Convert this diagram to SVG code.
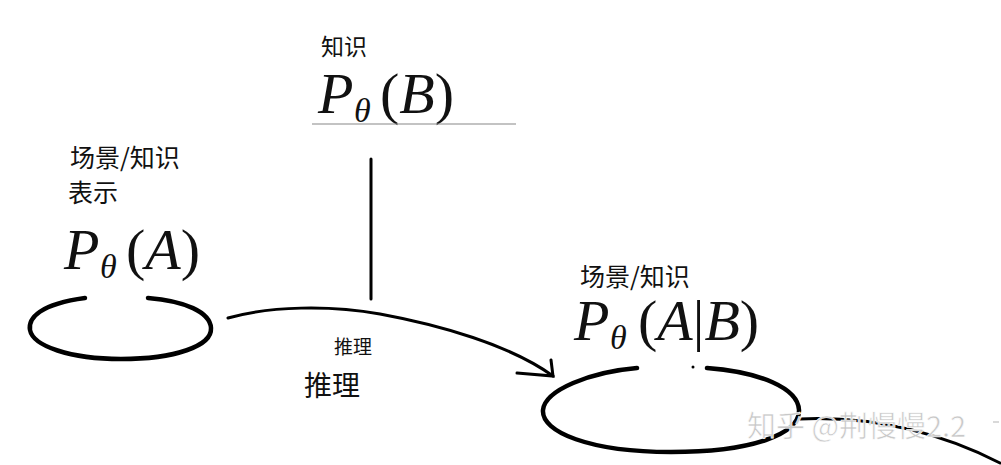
<svg xmlns="http://www.w3.org/2000/svg" width="1001" height="465" viewBox="0 0 1001 465">
<style>
.cn{font-family:"Noto Sans CJK SC","Noto Sans CJK JP",sans-serif;fill:#111}
.m{font-family:"Liberation Serif","DejaVu Serif",serif;fill:#111;font-size:58px}
.i{font-style:italic}
.s{font-family:"Liberation Serif","DejaVu Serif",serif;font-style:italic;fill:#111;font-size:34px}
.ln{fill:none;stroke:#000;stroke-linecap:round}
.wm{font-family:"Noto Sans CJK SC",sans-serif;font-size:29px;fill:#c8c8c8;stroke:#fff;stroke-width:0.6}
</style>
<rect width="1001" height="465" fill="#fff"/>
<g id="node-knowledge">
<text class="cn" x="321" y="55" font-size="23">知识</text>
<text class="m" y="113"><tspan class="i" x="318">P</tspan></text>
<text class="s" x="354" y="122">θ</text>
<text class="m" y="113"><tspan x="380">(</tspan><tspan class="i">B</tspan><tspan>)</tspan></text>
<line x1="312" y1="124" x2="516" y2="124" stroke="#888" stroke-width="1.2"/>
</g>
<g id="node-scene">
<text class="cn" x="70" y="167" font-size="25">场景/知识</text>
<text class="cn" x="68" y="202" font-size="25">表示</text>
<text class="m" y="269"><tspan class="i" x="64">P</tspan></text>
<text class="s" x="100" y="278">θ</text>
<text class="m" y="269"><tspan x="126">(</tspan><tspan class="i">A</tspan><tspan>)</tspan></text>
<path class="ln" stroke-width="4.5" d="M85,298 C40,304 28,318 30,330 C33,346 70,359 121,359 C175,359 212,346 211,328 C210,312 185,301 148,298"/>
</g>
<g id="node-posterior">
<text class="cn" x="580" y="286" font-size="25">场景/知识</text>
<text class="m" y="340"><tspan class="i" x="574">P</tspan></text>
<text class="s" x="610" y="349">θ</text>
<text class="m" y="340"><tspan x="638">(</tspan><tspan class="i">A</tspan><tspan>|</tspan><tspan class="i">B</tspan><tspan>)</tspan></text>
<path class="ln" stroke-width="4.5" d="M637,368 C590,372 545,390 543,410 C541,432 590,452 671,452 C752,452 800,434 799,410 C798,388 760,372 707,368"/>
<circle cx="693" cy="367" r="1.5" fill="#000"/>
</g>
<g id="connectors">
<line class="ln" x1="371" y1="159" x2="371" y2="299" stroke-width="3"/>
<path class="ln" stroke-width="3" d="M228,318 C270,306 330,305 380,314 C440,325 510,345 553,376"/>
<path class="ln" stroke-width="3" d="M517,373 L553,376 L551,360"/>
<path class="ln" stroke-width="3" d="M800,419 C870,416 935,430 1000,463"/>
<text class="cn" x="334" y="354" font-size="19">推理</text>
<text class="cn" x="304" y="396" font-size="28">推理</text>
</g>
<text class="wm" x="747" y="437">知乎 @荆慢慢2.2</text>
<line x1="993" y1="422" x2="999" y2="422" stroke="#ccc" stroke-width="1.5"/>
</svg>
